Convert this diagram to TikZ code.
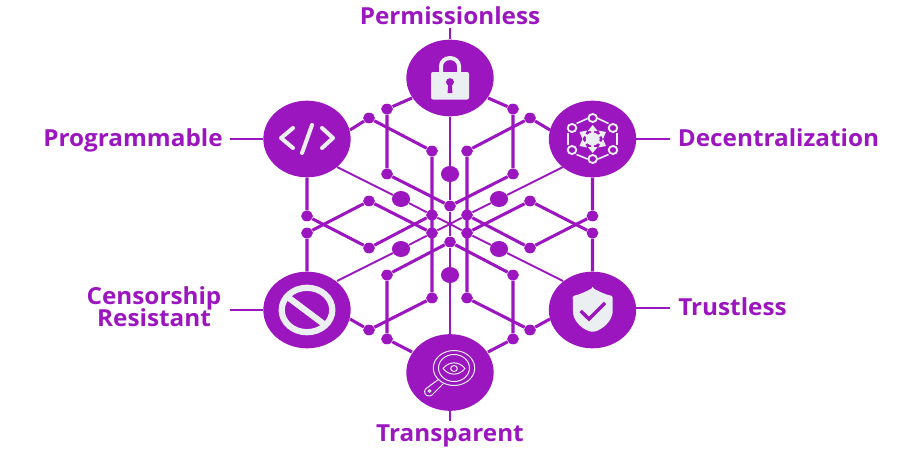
\documentclass[tikz,border=0pt]{standalone}
\usepackage{fontspec}
\setmainfont{Open Sans}[FakeStretch=1.035]
\usetikzlibrary{shapes.geometric,arrows.meta}
\definecolor{vio}{HTML}{9B16BE}
\definecolor{ico}{HTML}{ECEFF2}
\tikzset{
 big/.style={ellipse,fill=vio,minimum width=65.5pt,minimum height=57.5pt,inner sep=0pt},
 dot/.style={ellipse,fill=vio,minimum width=8.8pt,minimum height=8pt,inner sep=0pt},
 hub/.style={ellipse,fill=vio,minimum width=13.6pt,minimum height=12pt,inner sep=0pt},
 thick line/.style={draw=vio,line width=2.3pt},
 thin line/.style={draw=vio,line width=1.4pt},
 lab/.style={text=vio,font=\fontsize{17.6pt}{16.5pt}\selectfont\bfseries,align=center,inner sep=0pt,anchor=base},
 iconline/.style={draw=ico,line width=3pt,line cap=round,line join=round},
 fineline/.style={draw=ico,line width=0.75pt,line cap=round,line join=round},
}
\begin{document}
\begin{tikzpicture}[x=0.75pt,y=-0.75pt]
\useasboundingbox (0,0) rectangle (900,450);
% main circles
\node[big] (perm) at (450,78) {};
\node[big] (prog) at (307,139) {};
\node[big] (dec) at (592.5,139) {};
\node[big] (cens) at (307,310) {};
\node[big] (trust) at (592.5,310) {};
\node[big] (trans) at (450,372.5) {};
% hubs
\node[hub] (hT) at (450,174) {};
\node[hub] (hB) at (450,275) {};
\node[hub] (hUL) at (401,199) {};
\node[hub] (hUR) at (499,199) {};
\node[hub] (hLL) at (401,249) {};
\node[hub] (hLR) at (499,249) {};
% dots
\foreach \n/\x/\y in {a1/387/109,a2/513/109,a3/387/174,a4/513/174,a5/450/206,
 b1/369/118,b2/432/151,b3/432/215,b4/432/233,b5/432/298,b6/369/330,
 c1/530/118,c2/467/151,c3/467/215,c4/467/233,c5/467/298,c6/530/330,
 d1/307/216,d2/369/248,d3/307/233,d4/369/201,
 e1/592.5/216,e2/530/248,e3/592.5/233,e4/530/201,
 f1/387/339,f2/513/339,f3/387/275,f4/513/275,f5/450/242}
 \node[dot] (\n) at (\x,\y) {};
% ports on the circle rims
\coordinate (mid) at (450,224);
\coordinate (pL) at (412,98); \coordinate (pR) at (488,98);
\coordinate (tL) at (412,352); \coordinate (tR) at (488,352);
\coordinate (gA) at (350,130); \coordinate (gB) at (337,167);
\coordinate (dA) at (550,130); \coordinate (dB) at (563,167);
\coordinate (cA) at (350,319); \coordinate (cB) at (337,281);
\coordinate (uA) at (550,319); \coordinate (uB) at (563,281);
% label nodes
\node[lab] (Lperm) at (450,24) {Permissionless};
\node[lab] (Lprog) at (133,146.5) {Programmable};
\node[lab] (Ldec) at (778.5,146.5) {Decentralization};
\node[lab] (Lcens) at (154,326) {Censorship\\[-2.6pt]Resistant};
\node[lab] (Ltrust) at (732.5,315.5) {Trustless};
\node[lab] (Ltrans) at (450,441) {Transparent};
% label stubs
\coordinate (s1) at (450,28); \coordinate (s2) at (230,139); \coordinate (s3) at (670,139);
\coordinate (s4) at (230,310); \coordinate (s5) at (670,308); \coordinate (s5b) at (635,308); \coordinate (s6) at (450,421);
\draw[thin line] (s1) -- (perm);
\draw[thin line] (s2) -- (prog);
\draw[thin line] (s3) -- (dec);
\draw[thin line] (s4) -- (cens);
\draw[thin line] (s5) -- (s5b);
\draw[thin line] (s6) -- (trans);
% thick network
\path[thick line] (pL) -- (a1) -- (a3) -- (a5) -- (a4) -- (a2) -- (pR);
\path[thick line] (tL) -- (f1) -- (f3) -- (f5) -- (f4) -- (f2) -- (tR);
\path[thick line] (gA) -- (b1) -- (b2) -- (b5) -- (b6) -- (cA);
\path[thick line] (dA) -- (c1) -- (c2) -- (c5) -- (c6) -- (uA);
\path[thick line] (prog) -- (d1) -- (d2) -- (b3);
\path[thick line] (cens) -- (d3) -- (d4) -- (b4);
\path[thick line] (dec) -- (e1) -- (e2) -- (c3);
\path[thick line] (trust) -- (e3) -- (e4) -- (c4);
% thin spokes through the centre
\path[thin line] (perm) -- (hT) -- (a5) -- (mid) -- (f5) -- (hB) -- (trans);
\path[thin line] (gB) -- (hUL) -- (b3) -- (mid) -- (c4) -- (hLR) -- (uB);
\path[thin line] (dB) -- (hUR) -- (c3) -- (mid) -- (b4) -- (hLL) -- (cB);
% lock
\draw[draw=ico,line width=3pt] (441,74) -- (441,66) arc[start angle=180,end angle=360,x radius=9,y radius=8] -- (459,74);
\fill[ico,rounded corners=1.5pt] (431,72) rectangle (469,99.5);
\fill[vio] (450,82) ellipse[x radius=4,y radius=3.8];
\fill[vio] (448.2,83) -- (451.8,83) -- (452.4,93) -- (447.6,93) -- cycle;
% code
\draw[iconline] (293,128) -- (281,138) -- (293,148);
\draw[iconline] (312,125) -- (302,153);
\draw[iconline] (322,128) -- (333,138) -- (322,148);
% forbidden
\draw[draw=ico,line width=4.7pt] (307,310) ellipse[x radius=25.3,y radius=22.2];
\draw[draw=ico,line width=4.7pt] (289,298) -- (325,325);
% shield
\fill[ico,rounded corners=1pt] (592.7,288) .. controls (586,291.5) and (580,294.5) .. (572.7,296) -- (573,312) .. controls (574,322) and (583,330) .. (592.7,332) .. controls (602,330) and (611,322) .. (612.7,312) -- (612.7,296) .. controls (605,294.5) and (599,291.5) .. (592.7,288) -- cycle;
\draw[draw=vio,line width=2.6pt] (580.7,311) -- (589,319) -- (605,303);
% network icon
\foreach \x/\y in {592.7/118,613/128,613/150,592.7/159,572/150,572/128}
  \draw[draw=ico,line width=1.4pt] (\x,\y) ellipse[x radius=4.3,y radius=4];
\draw[draw=ico,line width=1.2pt] (576.5,123.5) -- (587.5,118.5);
\draw[draw=ico,line width=1.2pt] (598,118.5) -- (608.5,123.5);
\draw[draw=ico,line width=1.2pt] (617,133) -- (617,145);
\draw[draw=ico,line width=1.2pt] (576.5,154.5) -- (587.5,159);
\draw[draw=ico,line width=1.2pt] (598,159) -- (608.5,154.5);
\draw[draw=ico,line width=1.2pt] (568,133) -- (568,145);
\fill[ico] (592.7,139) ellipse[x radius=7,y radius=6.5];
\foreach \x/\y in {592.7/125,592.7/153,606/132,606/146,579.5/132,579.5/146}
  \draw[draw=ico,line width=1.9pt,-{Triangle[length=4.5pt,width=7pt]}] (592.7,139) -- (\x,\y);
% magnifier
\draw[fineline] (454,368) ellipse[x radius=20.7,y radius=17.5];
\draw[fineline] (454,368) ellipse[x radius=15.5,y radius=13.5];
\draw[fineline] (443,368.5) .. controls (449,361) and (459,361) .. (465,368.5) .. controls (459,376) and (449,376) .. (443,368.5) -- cycle;
\draw[fineline] (454,368.5) ellipse[x radius=3.3,y radius=3];
\draw[fineline] (439,379) -- (425.5,389) .. controls (423.5,392) and (425,396) .. (429,396) .. controls (430,396) and (431.5,395.5) .. (432,395) -- (443,384);
\draw[fineline] (429.5,391) ellipse[x radius=1.5,y radius=1.4];
\end{tikzpicture}
\end{document}
